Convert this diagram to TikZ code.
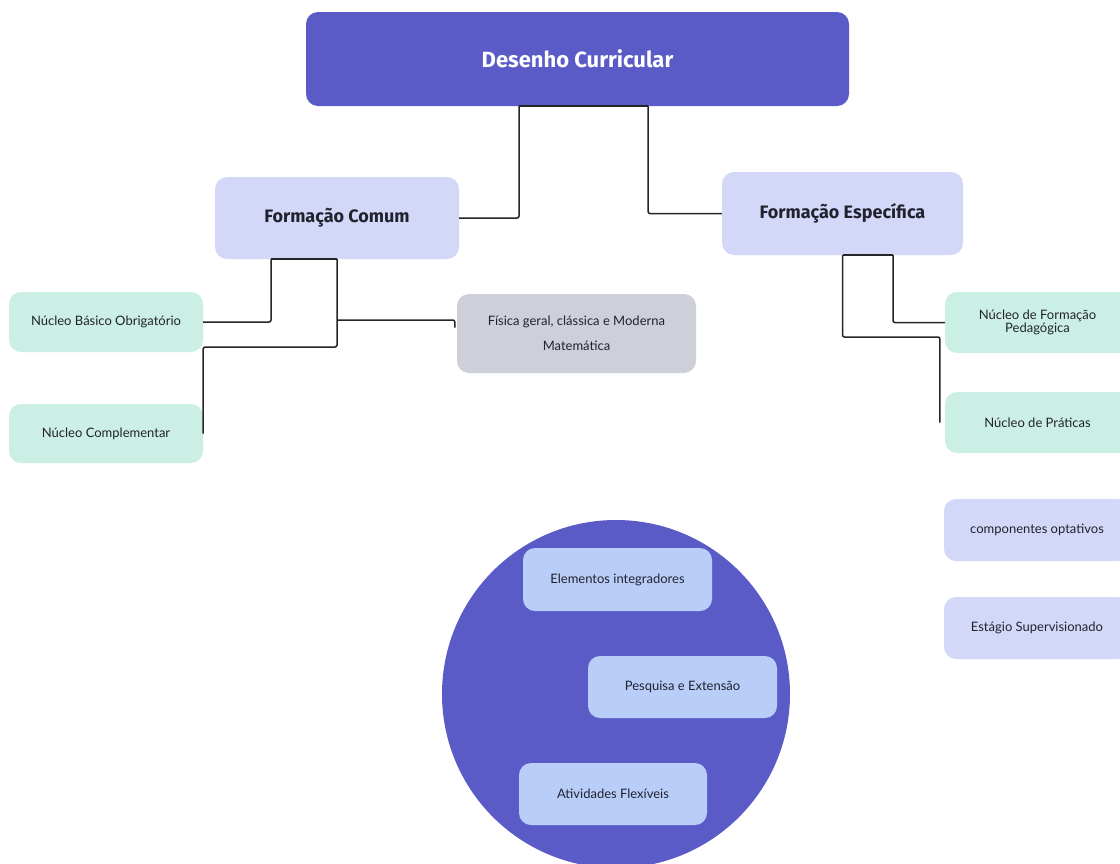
\documentclass[tikz,border=0pt]{standalone}
\usepackage{fontspec}
\setmainfont{Lato}
\newfontfamily\headfont{Fira Sans}
\definecolor{cdark}{HTML}{5B5BC8}
\definecolor{clav}{HTML}{D4D8F8}
\definecolor{cmint}{HTML}{CCEFE5}
\definecolor{cgray}{HTML}{CDD0D8}
\definecolor{cblue}{HTML}{B9CDF9}
\definecolor{ctext}{HTML}{22222E}
\begin{document}
\begin{tikzpicture}[x=1pt,y=-1pt,
  box/.style={rectangle,rounded corners=12pt,inner sep=0pt,align=center,text=ctext},
  small/.style={box,font=\fontsize{13}{13}\selectfont},
  head/.style={box,fill=clav,font=\headfont\bfseries\fontsize{18}{20}\selectfont},
  conn/.style={draw=black!85,line width=1.5pt,rounded corners=2pt}]
\useasboundingbox[fill=white] (0,0) rectangle (1120,863);
% top
\node[box,fill=cdark,minimum width=543pt,minimum height=94pt,text=white,font=\headfont\bfseries\fontsize{22}{26}\selectfont] (top) at (577.5,59) {Desenho Curricular};
\node[head,minimum width=244pt,minimum height=82pt] (fc) at (337,218) {Formação Comum};
\node[head,minimum width=241pt,minimum height=83pt] (fe) at (842.5,213.5) {Formação Específica};
% left
\node[small,fill=cmint,minimum width=194pt,minimum height=60pt] (nbo) at (106,322) {Núcleo Básico Obrigatório};
\node[small,fill=cmint,minimum width=194pt,minimum height=59pt] (nc) at (106,433.5) {Núcleo Complementar};
\node[small,fill=cgray,minimum width=239pt,minimum height=79pt,font=\fontsize{13}{25}\selectfont] (fis) at (576.5,333.5) {Física geral, clássica e Moderna\\Matemática};
% right
\node[small,fill=cmint,minimum width=185pt,minimum height=61pt] (nfp) at (1037.5,322.5) {Núcleo de Formação\\Pedagógica};
\node[small,fill=cmint,minimum width=185pt,minimum height=61pt] (np) at (1037.5,422.5) {Núcleo de Práticas};
\node[small,fill=clav,minimum width=186pt,minimum height=62pt] (co) at (1037,530) {componentes optativos};
\node[small,fill=clav,minimum width=186pt,minimum height=62pt] (es) at (1037,628) {Estágio Supervisionado};
% circle
\node[circle,fill=cdark,minimum size=348pt,inner sep=0pt] (circ) at (616,694) {};
\node[small,fill=cblue,minimum width=189pt,minimum height=63pt] (ei) at (617.5,579.5) {Elementos integradores};
\node[small,fill=cblue,minimum width=189pt,minimum height=62pt] (pe) at (682.5,687) {Pesquisa e Extensão};
\node[small,fill=cblue,minimum width=188pt,minimum height=62pt] (af) at (613,794) {Atividades Flexíveis};
% coordinates
\coordinate (t1) at ([xshift=-58.5pt]top.south);
\coordinate (t2) at ([xshift=70.5pt]top.south);
\coordinate (f1) at ([xshift=-66pt]fc.south);
\coordinate (f2) at (fc.south);
\coordinate (f3) at (337,347);
\coordinate (f4) at (337,320);
\coordinate (e1) at (fe.south);
\coordinate (e2) at ([xshift=50.5pt]fe.south);
\coordinate (e3) at (842.5,337);
% connectors
\draw[conn] (t1) -- (t2);
\draw[conn] (t1) |- (fc.east);
\draw[conn] (t2) |- (fe.west);
\draw[conn] (f1) -- (f2);
\draw[conn] (f1) |- (nbo.east);
\draw[conn] (f2) -- (f3) -| (nc.east);
\draw[conn] (f4) -| ([xshift=-2pt,yshift=6pt]fis.west);
\draw[conn] (e1) -- (e2);
\draw[conn] (e2) |- (nfp.west);
\draw[conn] (e1) -- (e3) -| ([xshift=-5pt]np.west);
\end{tikzpicture}
\end{document}
